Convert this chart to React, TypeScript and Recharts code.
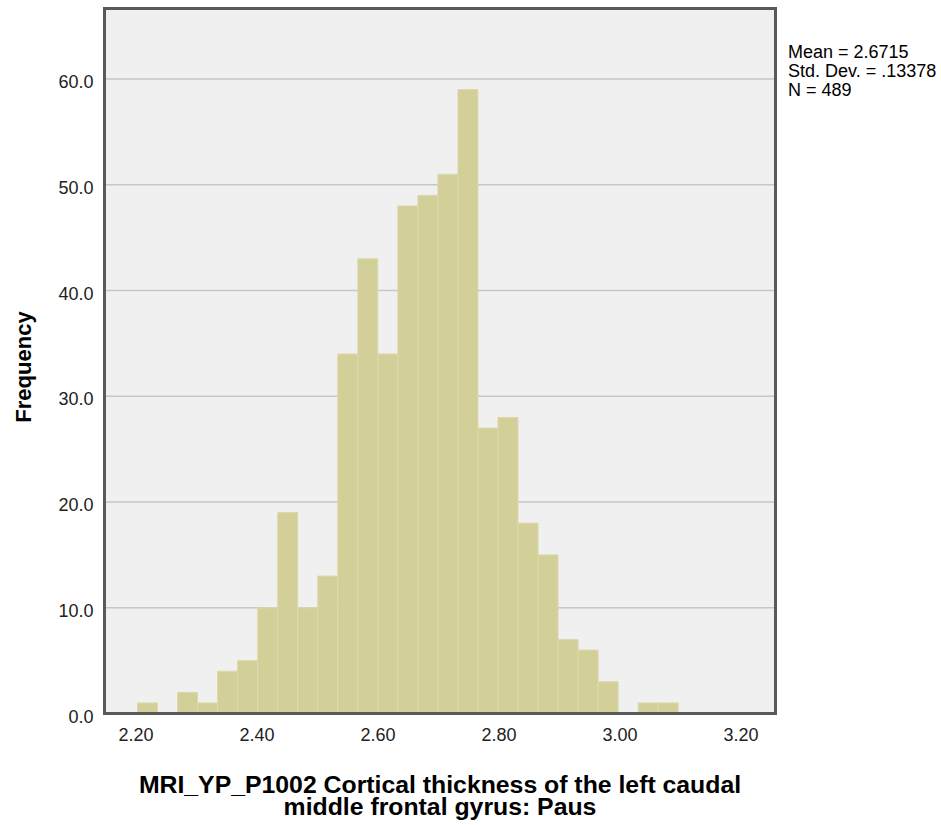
import React from 'react'
import {
  ComposedChart,
  Bar,
  XAxis,
  YAxis,
  CartesianGrid,
  ReferenceArea,
} from 'recharts'

// bin centres (cortical thickness) and counts per bin
const binCenters = [
  2.2191, 2.2522, 2.2853, 2.3184, 2.3515, 2.3846, 2.4177, 2.4508, 2.4839,
  2.517, 2.5501, 2.5832, 2.6163, 2.6494, 2.6825, 2.7156, 2.7487, 2.7818,
  2.8149, 2.848, 2.8811, 2.9142, 2.9473, 2.9804, 3.0135, 3.0466, 3.0797,
]
const frequencies = [
  1, 0, 2, 1, 4, 5, 10, 19, 10, 13, 34, 43, 34, 48, 49, 51, 59, 27, 28, 18,
  15, 7, 6, 3, 0, 1, 1,
]

const xTicks = [2.2, 2.4, 2.6, 2.8, 3.0, 3.2]
const yTicks = [0, 10, 20, 30, 40, 50, 60]
const xDomain = [2.148, 3.257]
const yDomain = [0, 66.67]

const statLines = ['Mean = 2.6715', 'Std. Dev. = .13378', 'N = 489']
const xTitleLines = [
  'MRI_YP_P1002 Cortical thickness of the left caudal',
  'middle frontal gyrus: Paus',
]

const FONT = '"Liberation Sans", Arial, sans-serif'
const FRAME = '#595959'

const data = binCenters.map((x, i) => ({ x, count: frequencies[i] }))

const XTick = ({ x, y, payload }: any) => (
  <text x={x} y={y + 27} textAnchor="middle" fontSize={18} fontFamily={FONT} fill="#222">
    {Number(payload.value).toFixed(2)}
  </text>
)

const YTick = ({ x, y, payload }: any) => (
  <text x={x} y={y + 9} textAnchor="end" fontSize={18} fontFamily={FONT} fill="#222">
    {Number(payload.value).toFixed(1)}
  </text>
)

export default function App() {
  return (
    <div style={{ position: 'absolute', left: 0, top: 0, width: 941, height: 825, background: '#fff' }}>
      <ComposedChart
        width={941}
        height={825}
        data={data}
        margin={{ top: 8.5, right: 165.5, bottom: 81.5, left: 0 }}
        barGap={0}
        barCategoryGap={0}
      >
        <CartesianGrid
          vertical={false}
          horizontal
          fill="#f0f0f0"
          stroke="#c6c6c6"
          strokeWidth={1.5}
          horizontalValues={[10, 20, 30, 40, 50, 60]}
        />
        <XAxis
          dataKey="x"
          type="number"
          domain={xDomain}
          ticks={xTicks}
          allowDataOverflow
          height={30}
          tickSize={0}
          tickMargin={0}
          tickLine={false}
          axisLine={{ stroke: FRAME, strokeWidth: 3 }}
          tick={<XTick />}
        />
        <YAxis
          type="number"
          domain={yDomain}
          ticks={yTicks}
          allowDataOverflow
          width={104.5}
          tickSize={0}
          tickMargin={11}
          tickLine={false}
          axisLine={{ stroke: FRAME, strokeWidth: 3 }}
          tick={<YTick />}
        />
        <Bar
          dataKey="count"
          fill="#d3cf99"
          stroke="#dcd9ab"
          strokeWidth={1}
          barSize={20}
          isAnimationActive={false}
        />
        <ReferenceArea
          x1={xDomain[0]}
          x2={xDomain[1]}
          y1={yDomain[0]}
          y2={yDomain[1]}
          fill="none"
          stroke={FRAME}
          strokeWidth={3}
          ifOverflow="visible"
        />
      </ComposedChart>
      <svg
        width={941}
        height={825}
        style={{ position: 'absolute', left: 0, top: 0, pointerEvents: 'none' }}
      >
        {statLines.map((line, i) => (
          <text key={line} x={788} y={58 + i * 19} fontSize={18} fontFamily={FONT} fill="#000">
            {line}
          </text>
        ))}
        <text
          transform="translate(31,367) rotate(-90)"
          textAnchor="middle"
          fontSize={22}
          fontWeight="bold"
          fontFamily={FONT}
          fill="#000"
        >
          Frequency
        </text>
        <text
          textAnchor="middle"
          fontSize={24.8}
          fontWeight="bold"
          fontFamily={FONT}
          fill="#000"
        >
          {xTitleLines.map((line, i) => (
            <tspan key={line} x={440} y={793 + i * 22}>
              {line}
            </tspan>
          ))}
        </text>
      </svg>
    </div>
  )
}
